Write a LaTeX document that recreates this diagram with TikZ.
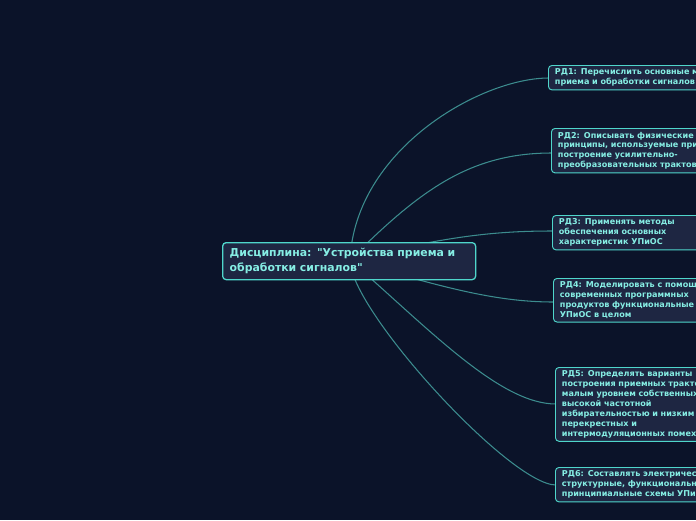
\documentclass[tikz,border=0pt]{standalone}
\usepackage{fontspec}
\newfontfamily\djv{DejaVu Sans}
\definecolor{bgnavy}{HTML}{0B1329}
\definecolor{boxfill}{HTML}{1E2642}
\definecolor{boxline}{HTML}{4FD6CB}
\definecolor{boxtext}{HTML}{86EEE4}
\definecolor{linkcol}{HTML}{3C8C8E}
\begin{document}
\begin{tikzpicture}[x=0.03cm, y=-0.03cm,
    mainbox/.style={rectangle, draw=boxline, fill=boxfill, line width=1.1pt, rounded corners=3pt, anchor=north west, align=left, text=boxtext, text width=7.59cm-12pt, minimum height=1.11cm, inner xsep=6pt, inner ysep=3pt, font=\djv\bfseries\fontsize{9.3}{12.6}\selectfont},
    rdbox/.style={rectangle, draw=boxline, fill=boxfill, line width=0.8pt, rounded corners=3pt, anchor=north west, align=left, text=boxtext, text width=5.6cm, inner xsep=5.5pt, inner ysep=3pt, font=\djv\bfseries\fontsize{6.9}{8.4}\selectfont},
    link/.style={draw=linkcol, line width=0.9pt}
]
\clip (0,0) rectangle (696,520);
\fill[bgnavy] (0,0) rectangle (696,520);

% Branches (drawn first, the boxes cover their ends)
\coordinate (hub) at (350,260);
\draw[link] (hub) .. controls (355,150) and (480,78) .. (549,78);
\draw[link] (hub) .. controls (420,190) and (470,153) .. (552,153);
\draw[link] (hub) .. controls (450,235) and (500,231) .. (553,231);
\draw[link] (hub) .. controls (450,290) and (500,302) .. (554,302);
\draw[link] (hub) .. controls (430,330) and (500,404) .. (556,404);
\draw[link] (hub) .. controls (350,310) and (510,485) .. (556,485);

% Discipline
\node[mainbox] (disc) at (222,242) {Дисциплина: "Устройства приема и\\обработки сигналов"};

% Learning outcomes
\node[rdbox] (rd1) at (548,65) {РД1: Перечислить основные методы\\приема и обработки сигналов};
\node[rdbox] (rd2) at (551,128) {РД2: Описывать физические\\принципы, используемые при\\построение усилительно-\\преобразовательных трактов};
\node[rdbox] (rd3) at (552,215) {РД3: Применять методы\\обеспечения основных\\характеристик УПиОС};
\node[rdbox] (rd4) at (553,278) {РД4: Моделировать с помощью\\современных программных\\продуктов функциональные узлы\\УПиОС в целом};
\node[rdbox] (rd5) at (555,367) {РД5: Определять варианты\\построения приемных трактов с\\малым уровнем собственных шумов,\\высокой частотной\\избирательностью и низким уровнем\\перекрестных и\\интермодуляционных помех};
\node[rdbox] (rd6) at (555,467) {РД6: Составлять электрические\\структурные, функциональные и\\принципиальные схемы УПиОС};

\end{tikzpicture}
\end{document}
